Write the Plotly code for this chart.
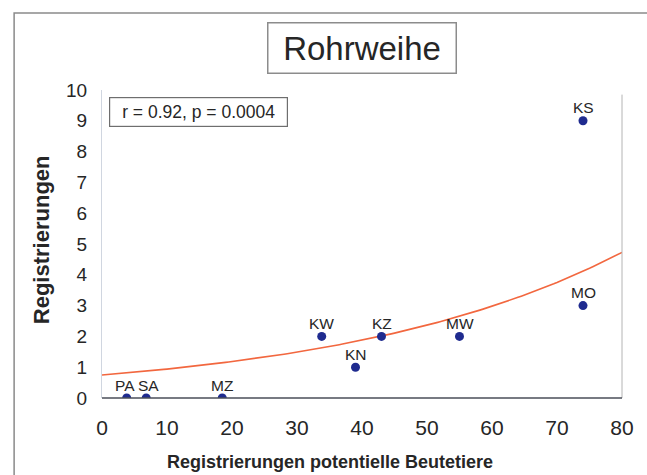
import numpy as np
import plotly.graph_objects as go

# Study sites and their counts
sites = ["PA", "SA", "MZ", "KW", "KN", "KZ", "MW", "MO", "KS"]
prey_counts = [3.8, 6.8, 18.5, 33.8, 39, 43, 55, 74, 74]       # Registrierungen potentielle Beutetiere
harrier_counts = [0, 0, 0, 2, 1, 2, 2, 3, 9]                    # Registrierungen Rohrweihe

# Exponential trend line y = a * exp(b * x)
trend_a = 0.745
trend_b = 0.0231

x_ticks = [0, 10, 20, 30, 40, 50, 60, 70, 80]
y_ticks = [0, 1, 2, 3, 4, 5, 6, 7, 8, 9, 10]

stats_text = "r = 0.92, p = 0.0004"
title_text = "Rohrweihe"
x_title = "Registrierungen potentielle Beutetiere"
y_title = "Registrierungen"

font_family = "Liberation Sans, Arial, sans-serif"
text_color = "#262626"

# nudge the two crowded labels near the origin apart a little
label_nudge = {"PA": -2, "SA": 2}

trend_x = np.linspace(0, 80, 161)
trend_y = trend_a * np.exp(trend_b * trend_x)

fig = go.Figure()

fig.add_trace(go.Scatter(
    x=trend_x, y=trend_y, mode="lines",
    line=dict(color="#f2673f", width=1.6),
    hoverinfo="skip", showlegend=False,
))

fig.add_trace(go.Scatter(
    x=prey_counts, y=harrier_counts, mode="markers",
    marker=dict(color="#1f2b8f", size=9),
    cliponaxis=True, showlegend=False,
))

# Site labels just above each point
for name, xv, yv in zip(sites, prey_counts, harrier_counts):
    fig.add_annotation(
        x=xv, y=yv, text=name, showarrow=False,
        xanchor="center", yanchor="middle", yshift=13,
        xshift=label_nudge.get(name, 0),
        font=dict(family=font_family, size=15.5, color=text_color),
    )

# Outer frame of the figure
fig.add_shape(type="rect", xref="paper", yref="paper",
              x0=-0.169, x1=1.2, y0=-0.4, y1=1.25,
              line=dict(color="#8a8a8a", width=1.5), layer="below")
# Right edge of the plotting area
fig.add_shape(type="line", xref="paper", yref="paper",
              x0=1, x1=1, y0=0, y1=0.985,
              line=dict(color="#b4b4b4", width=1))
# Keep markers sitting on the x axis trimmed to the plotting area
fig.add_shape(type="rect", xref="paper", yref="paper",
              x0=0.001, x1=1, y0=-0.035, y1=0,
              fillcolor="white", line=dict(width=0), layer="above")
# Bottom axis line
fig.add_shape(type="line", xref="paper", yref="paper",
              x0=0, x1=1, y0=0, y1=0,
              line=dict(color="#4a4e58", width=1.6), layer="above")

fig.add_annotation(
    xref="paper", yref="paper", x=0.5, y=1.137,
    xanchor="center", yanchor="middle",
    text=title_text, showarrow=False,
    font=dict(family=font_family, size=33, color=text_color),
    width=187, height=49, borderpad=0,
    bordercolor="#8c8c8c", borderwidth=1.5, bgcolor="white",
)

fig.add_annotation(
    xref="paper", yref="paper", x=0.1856, y=0.9286,
    xanchor="center", yanchor="middle",
    text=stats_text, showarrow=False, align="center",
    font=dict(family=font_family, size=17.5, color=text_color),
    width=177, height=28, borderpad=0,
    bordercolor="#6e6e6e", borderwidth=1.2, bgcolor="white",
)

# Axis titles
fig.add_annotation(
    xref="paper", yref="paper", x=0.438, y=-0.208,
    xanchor="center", yanchor="middle",
    text="<b>" + x_title + "</b>", showarrow=False,
    font=dict(family=font_family, size=18, color=text_color),
)
fig.add_annotation(
    xref="paper", yref="paper", x=-0.115, y=0.513,
    xanchor="center", yanchor="middle", textangle=-90,
    text="<b>" + y_title + "</b>", showarrow=False,
    font=dict(family=font_family, size=22, color=text_color),
)

fig.update_layout(
    width=647, height=475,
    margin=dict(l=102, r=25, t=90, b=77),
    paper_bgcolor="white", plot_bgcolor="white",
    font=dict(family=font_family, color=text_color),
    xaxis=dict(
        range=[0, 80], tickvals=x_ticks, ticks="outside", ticklen=0,
        ticklabelstandoff=11, showgrid=False, zeroline=False,
        showline=False,
        tickfont=dict(size=21, color=text_color),
    ),
    yaxis=dict(
        range=[0, 10], tickvals=y_ticks, ticks="outside", ticklen=0,
        ticklabelstandoff=10, showgrid=False, zeroline=False,
        showline=True, linecolor="#d0d6e0", linewidth=1,
        tickfont=dict(size=19, color=text_color),
    ),
)

fig.write_html("out.html")
